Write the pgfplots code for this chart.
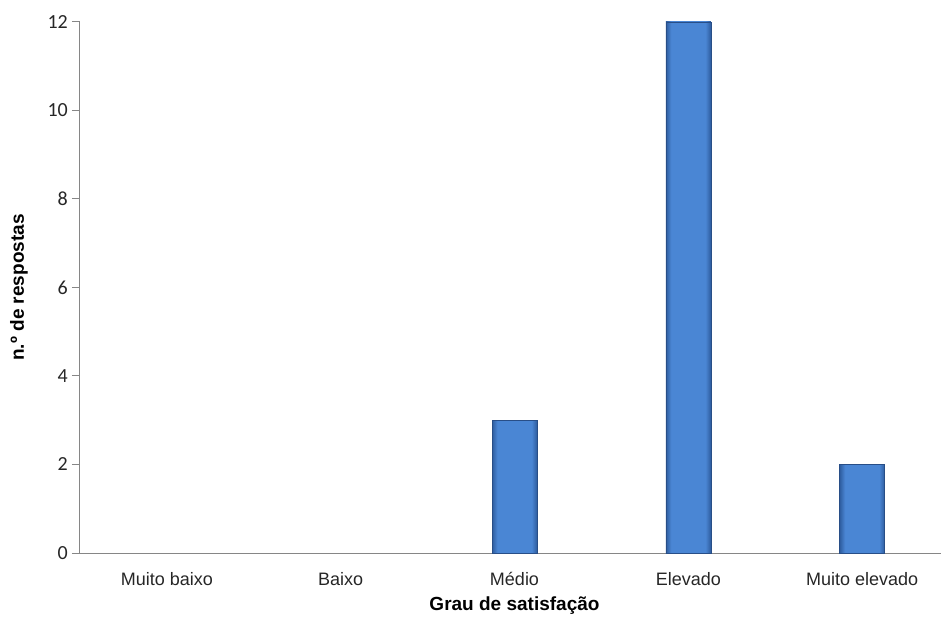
\documentclass[border=0pt]{standalone}
\usepackage{pgfplots}
\pgfplotsset{compat=1.18}
\usepackage{fontspec}
\setmainfont{Liberation Sans}
\newfontfamily\carlito{Carlito}

\definecolor{axisgray}{RGB}{134,134,134}
\definecolor{bardark}{RGB}{46,92,158}
\definecolor{barmid}{RGB}{74,134,212}
\definecolor{baredge}{RGB}{40,78,135}

\pgfdeclarehorizontalshading{barshade}{100bp}{%
  color(0bp)=(bardark); color(25bp)=(bardark); color(31bp)=(barmid);
  color(69bp)=(barmid); color(75bp)=(bardark); color(100bp)=(bardark)}

\pgfplotsset{
  bevelbar/.style={ybar, bar width=45pt, bar shift=0pt,
    draw=baredge, line width=0.6pt, shading=barshade},
}

\begin{document}
\begin{tikzpicture}
\begin{axis}[
  name=ax,
  scale only axis,
  width=869pt, height=531pt,
  xmin=-0.5, xmax=4.5,
  ymin=0, ymax=12,
  axis x line*=bottom,
  axis y line*=left,
  axis line style={axisgray, line width=1pt},
  ytick={0,2,...,12},
  xtick={0,1,2,3,4},
  xticklabels={Muito baixo,Baixo,Médio,Elevado,Muito elevado},
  x tick style={draw=none},
  y tick style={axisgray, line width=1pt},
  tick align=outside,
  major tick length=8pt,
  yticklabel style={font=\carlito\fontsize{20}{22}\selectfont, text=black!85, inner sep=0pt, xshift=-4pt},
  xticklabel style={font=\fontsize{18}{20}\selectfont, text=black!85, anchor=base, yshift=-24pt},
  /pgf/number format/assume math mode=true,
  ylabel={n.º de respostas},
  xlabel={Grau de satisfação},
  every axis y label/.style={at={(axis description cs:-0.0702,0.5)}, rotate=90, anchor=center, font=\bfseries\fontsize{19}{21}\selectfont},
  every axis x label/.style={at={(axis description cs:0.5,-0.1092)}, anchor=base, font=\bfseries\fontsize{19}{21}\selectfont},
  clip=false,
]
% Medio
\addplot[bevelbar] coordinates {(2,3)};
% Elevado
\addplot[bevelbar] coordinates {(3,12)};
% Muito elevado
\addplot[bevelbar] coordinates {(4,2)};
\end{axis}
\pgfresetboundingbox
\path[use as bounding box] ([shift={(-80pt,-65pt)}]ax.south west) rectangle ([shift={(861pt,553pt)}]ax.south west);
\end{tikzpicture}
\end{document}
